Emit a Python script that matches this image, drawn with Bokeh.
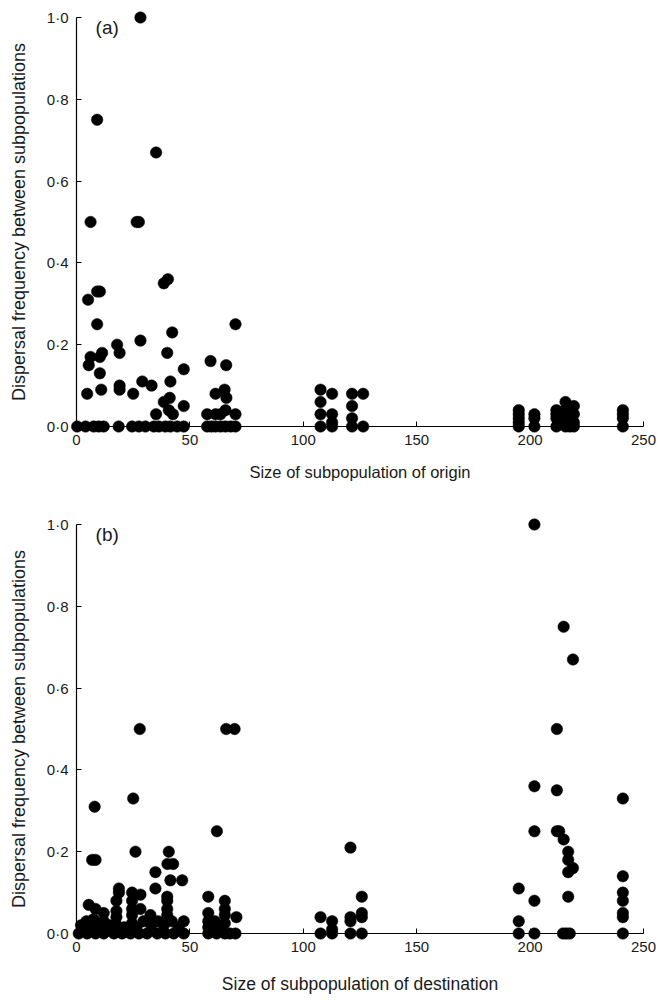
from bokeh.plotting import figure
from bokeh.layouts import column
from bokeh.models import Range1d, FixedTicker, Label, CustomJSTickFormatter
from bokeh.embed import file_html
from bokeh.resources import INLINE

# ---------------- data ----------------
# (a) size of subpopulation of origin vs dispersal frequency
origin_x = [28.2, 9.1, 35.1, 6.2, 26.5, 27.5, 38.5, 40.3, 5.1, 9.1, 10.3, 9.1, 70.1, 42.2, 28.2,
            17.9, 19.0, 40.0, 5.4, 6.2, 10.3, 11.3, 59.1, 66.0, 47.3, 10.3, 41.4, 29.0, 33.1,
            19.0, 19.0, 4.7, 10.9, 25.0, 38.5, 41.1, 40.7, 42.5, 47.3, 35.1,
            61.3, 65.3, 66.1, 57.6, 61.3, 65.7, 70.1, 63.5,
            107.6, 107.6, 107.6, 107.6, 112.7, 112.7, 112.7, 112.7,
            121.5, 121.5, 121.5, 121.5, 126.4, 126.4,
            195.0, 195.0, 195.0, 195.0, 195.0, 201.9, 201.9, 201.9,
            211.6, 211.6, 211.6, 211.6, 213.5, 213.5, 215.6, 215.6, 215.6,
            217.5, 217.5, 219.3, 219.3, 219.3, 219.3, 240.9, 240.9, 240.9, 240.9,
            0.3, 4.0, 7.6, 9.8, 12.0, 18.6, 24.5, 27.5, 30.4, 34.1, 36.3, 39.2, 41.4, 44.4,
            47.3, 57.6, 59.5, 61.3, 63.5, 65.7, 68.0, 70.1]
origin_y = [1.00, 0.75, 0.67, 0.50, 0.50, 0.50, 0.35, 0.36, 0.31, 0.33, 0.33, 0.25, 0.25, 0.23, 0.21,
            0.20, 0.18, 0.18, 0.15, 0.17, 0.17, 0.18, 0.16, 0.15, 0.14, 0.13, 0.11, 0.11, 0.10,
            0.10, 0.09, 0.08, 0.09, 0.08, 0.06, 0.07, 0.04, 0.03, 0.05, 0.03,
            0.08, 0.09, 0.07, 0.03, 0.03, 0.04, 0.03, 0.03,
            0.09, 0.06, 0.03, 0.00, 0.08, 0.03, 0.01, 0.00,
            0.08, 0.05, 0.02, 0.00, 0.08, 0.00,
            0.04, 0.03, 0.02, 0.01, 0.00, 0.03, 0.02, 0.00,
            0.04, 0.03, 0.02, 0.00, 0.03, 0.01, 0.06, 0.04, 0.00,
            0.02, 0.00, 0.05, 0.03, 0.01, 0.00, 0.04, 0.03, 0.02, 0.00,
            0.0, 0.0, 0.0, 0.0, 0.0, 0.0, 0.0, 0.0, 0.0, 0.0, 0.0, 0.0, 0.0, 0.0,
            0.0, 0.0, 0.0, 0.0, 0.0, 0.0, 0.0, 0.0]

# (b) size of subpopulation of destination vs dispersal frequency
dest_x = [27.9, 66.0, 69.7, 25.0, 8.0, 61.9, 26.0, 40.7, 6.9, 8.4, 40.1, 42.6, 34.8, 41.4, 46.6,
          34.8, 18.7, 18.7, 24.5, 28.2, 40.0, 58.1, 65.4, 5.4, 17.6, 8.4, 12.0, 24.5, 24.5, 24.5,
          28.2, 32.6, 40.0, 40.0, 40.0, 17.6, 17.6, 4.4, 7.5, 12.0,
          2.0, 6.0, 10.0, 14.5, 17.6, 21.0, 24.5, 26.5, 29.5, 33.0, 36.0, 38.5, 42.0, 45.0, 47.3,
          58.1, 58.1, 58.1, 65.4, 65.4, 65.4, 70.5, 61.8, 61.0,
          1.0, 4.7, 8.4, 12.0, 16.5, 20.1, 23.8, 27.5, 31.1, 35.6, 39.2, 42.9, 47.3,
          58.1, 61.8, 65.4, 67.6, 70.1,
          107.6, 107.6, 112.7, 112.7, 112.7, 120.8, 120.8, 120.8, 120.8,
          125.8, 125.8, 125.8, 125.8,
          195.0, 195.0, 195.0, 201.9, 201.9, 201.9, 201.9, 201.9,
          211.8, 211.8, 211.8, 212.8, 214.8, 218.9, 214.8, 216.8, 216.8, 218.9, 216.8, 216.8,
          214.5, 216.0, 217.5,
          240.9, 240.9, 240.9, 240.9, 240.9, 240.9, 240.9]
dest_y = [0.50, 0.50, 0.50, 0.33, 0.31, 0.25, 0.20, 0.20, 0.18, 0.18, 0.17, 0.17, 0.15, 0.13, 0.13,
          0.11, 0.11, 0.10, 0.10, 0.095, 0.09, 0.09, 0.08, 0.07, 0.08, 0.06, 0.05, 0.08, 0.06, 0.045,
          0.06, 0.045, 0.08, 0.06, 0.045, 0.055, 0.04, 0.03, 0.035, 0.03,
          0.02, 0.02, 0.015, 0.02, 0.02, 0.015, 0.025, 0.015, 0.03, 0.02, 0.03, 0.02, 0.03, 0.015, 0.03,
          0.05, 0.03, 0.015, 0.06, 0.045, 0.025, 0.04, 0.015, 0.03,
          0.0, 0.0, 0.0, 0.0, 0.0, 0.0, 0.0, 0.0, 0.0, 0.0, 0.0, 0.0, 0.0,
          0.0, 0.0, 0.0, 0.0, 0.0,
          0.04, 0.00, 0.03, 0.01, 0.00, 0.21, 0.04, 0.03, 0.00,
          0.09, 0.05, 0.04, 0.00,
          0.11, 0.03, 0.00, 1.00, 0.36, 0.25, 0.08, 0.00,
          0.50, 0.35, 0.25, 0.25, 0.75, 0.67, 0.23, 0.20, 0.18, 0.16, 0.15, 0.09,
          0.00, 0.00, 0.00,
          0.33, 0.14, 0.10, 0.08, 0.05, 0.04, 0.00]

x_ticks = [0, 50, 100, 150, 200, 250]
x_tick_labels = ["0", "50", "100", "150", "200", "250"]
y_ticks = [0.0, 0.2, 0.4, 0.6, 0.8, 1.0]
y_tick_labels = ["0·0", "0·2", "0·4", "0·6", "0·8", "1·0"]

panel_letters = ["(a)", "(b)"]
x_titles = ["Size of subpopulation of origin", "Size of subpopulation of destination"]
y_title = "Dispersal frequency between subpopulations"

# ---------------- style ----------------
FONT = "Liberation Sans"
TXT = "#1a1a1a"
X_MIN, X_MAX = 0, 250
Y_MIN, Y_MAX = 0.0, 1.0

LABEL_JS = """
let best = -1, d = 1e9;
for (let i = 0; i < tvals.length; i++) {
  const e = Math.abs(tvals[i] - tick);
  if (e < d) { d = e; best = i; }
}
return (best >= 0 && d < 1e-6) ? tlabels[best] : "";
"""


def make_panel(xs, ys, letter, xtitle, xtitle_size, xtitle_standoff, top_border, bottom_border):
    p = figure(frame_width=567, frame_height=409,
               x_range=Range1d(X_MIN, X_MAX), y_range=Range1d(Y_MIN, Y_MAX),
               output_backend="svg", toolbar_location=None,
               min_border_left=76, min_border_right=14,
               min_border_top=top_border, min_border_bottom=bottom_border,
               background_fill_color="white", border_fill_color="white")
    p.outline_line_color = None
    p.grid.visible = False

    r = p.scatter(xs, ys, size=11.5, fill_color="black", line_color="black", line_width=0.5)
    r.level = "overlay"  # draw dots over the axis lines, not clipped to the frame

    for ax in (p.xaxis[0], p.yaxis[0]):
        ax.axis_line_color = "black"
        ax.axis_line_width = 1.2
        ax.major_tick_in = 5
        ax.major_tick_out = 0
        ax.major_tick_line_color = "black"
        ax.major_tick_line_width = 1
        ax.minor_tick_line_color = None
        ax.major_label_text_font = FONT
        ax.major_label_text_font_size = "15px"
        ax.major_label_text_color = TXT
        ax.major_label_standoff = 8
        ax.axis_label_text_font = FONT
        ax.axis_label_text_font_style = "normal"
        ax.axis_label_text_color = TXT

    p.xaxis[0].ticker = FixedTicker(ticks=x_ticks)
    p.yaxis[0].ticker = FixedTicker(ticks=y_ticks)
    p.xaxis[0].formatter = CustomJSTickFormatter(args=dict(tvals=x_ticks, tlabels=x_tick_labels),
                                                 code=LABEL_JS)
    p.yaxis[0].formatter = CustomJSTickFormatter(args=dict(tvals=y_ticks, tlabels=y_tick_labels),
                                                 code=LABEL_JS)

    p.xaxis[0].axis_label = xtitle
    p.xaxis[0].axis_label_text_font_size = xtitle_size
    p.xaxis[0].axis_label_standoff = xtitle_standoff
    p.yaxis[0].axis_label = y_title
    p.yaxis[0].axis_label_text_font_size = "18px"
    p.yaxis[0].axis_label_standoff = 15

    p.add_layout(Label(x=8.4, y=0.975, text=letter, text_align="left", text_baseline="middle",
                       text_font=FONT, text_font_size="19px", text_color=TXT))
    return p


p1 = make_panel(origin_x, origin_y, panel_letters[0], x_titles[0], "16.5px", 15, 17, 88)
p2 = make_panel(dest_x, dest_y, panel_letters[1], x_titles[1], "17.5px", 19, 10, 67)

layout = column(p1, p2, spacing=0)
open("out.html", "w").write(file_html(layout, INLINE))
